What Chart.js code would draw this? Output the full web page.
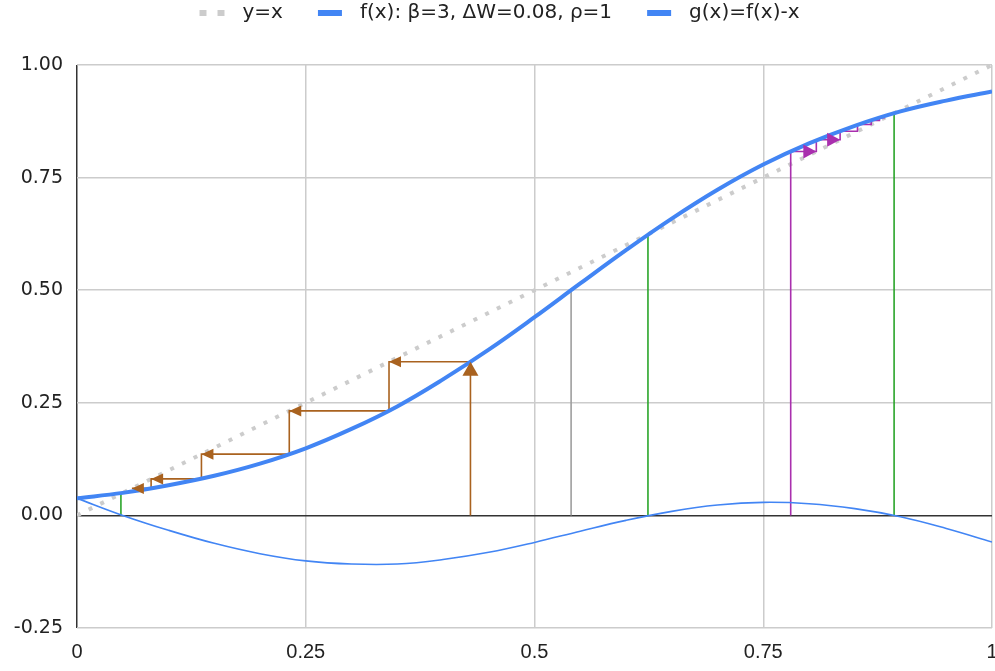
<!DOCTYPE html>
<html>
<head>
<meta charset="utf-8">
<script src="https://cdn.jsdelivr.net/npm/chart.js@4.4.1/dist/chart.umd.min.js"></script>
<style>
  html, body { margin: 0; padding: 0; background: #fff; }
  canvas { display: block; }
</style>
</head>
<body>
<canvas id="cobwebChart" width="995" height="671"></canvas>
<script>
// Sample points of the map and of g(x) = f(x) - x
const xs = [0, 0.05, 0.1, 0.15, 0.2, 0.25, 0.3, 0.35, 0.4, 0.45, 0.5,
            0.55, 0.6, 0.65, 0.7, 0.75, 0.8, 0.85, 0.9, 0.95, 1];
const fVals = [0.038, 0.050, 0.067, 0.088, 0.115, 0.149, 0.192, 0.242, 0.302, 0.368, 0.440,
               0.515, 0.589, 0.659, 0.723, 0.779, 0.826, 0.865, 0.897, 0.921, 0.941];
const gVals = [0.038, 0.000, -0.033, -0.062, -0.085, -0.101, -0.108, -0.108, -0.098, -0.082, -0.060,
               -0.035, -0.011, 0.009, 0.023, 0.029, 0.026, 0.015, -0.003, -0.029, -0.059];

// Diagonal y = x
const diagX = [0, 1];
const diagY = [0, 1];

// Iterates x0, f(x0), f(f(x0)), ... for the two cobwebs
const brownSteps = [0.43, 0.341, 0.232, 0.136, 0.081, 0.060];
const purpleSteps = [0.78, 0.808, 0.834, 0.853, 0.868, 0.877, 0.883];

// Fixed points (green) and the inflection marker (gray)
const fixedX = [0.048, 0.624, 0.893];
const fixedY = [0.050, 0.624, 0.893];
const midX = [0.54];
const midY = [0.50];

const xTickLabels = ["0", "0.25", "0.5", "0.75", "1"];
const xTickValues = [0, 0.25, 0.5, 0.75, 1];
const yTickLabels = ["-0.25", "0.00", "0.25", "0.50", "0.75", "1.00"];
const yTickValues = [-0.25, 0, 0.25, 0.5, 0.75, 1];

const BLUE = "#4285f4";
const BROWN = "#a9621f";
const PURPLE = "#a92fae";
const GREEN = "#2aa52a";
const WIDE_FONT = "'DejaVu Sans', Verdana, sans-serif";
const NARROW_FONT = "'Liberation Sans', Arial, sans-serif";

function toPoints(xArr, yArr) {
  return xArr.map((x, i) => ({ x: x, y: yArr[i] }));
}

// Staircase path: up from the axis, then across to the diagonal, then to the curve
function cobwebPath(steps) {
  const pts = [{ x: steps[0], y: 0 }, { x: steps[0], y: steps[1] }];
  for (let i = 1; i < steps.length; i++) {
    pts.push({ x: steps[i], y: steps[i] });
    if (i + 1 < steps.length) pts.push({ x: steps[i], y: steps[i + 1] });
  }
  return pts;
}

function stem(x, h, color, width) {
  return {
    data: [{ x: x, y: 0 }, { x: x, y: h }],
    showLine: true,
    borderColor: color,
    borderWidth: width,
    pointRadius: 0,
    order: 5,
  };
}

// Legend swatches (40px wide box, 24-26px visible mark in the middle)
function swatch(draw) {
  const c = document.createElement("canvas");
  c.width = 40;
  c.height = 6;
  draw(c.getContext("2d"));
  return c;
}
const dotSwatch = swatch((g) => {
  g.fillStyle = "#cccccc";
  g.fillRect(7, 0, 7, 6);
  g.fillRect(25, 0, 7, 6);
});
const blueSwatch = swatch((g) => {
  g.fillStyle = BLUE;
  g.fillRect(8, 0, 24, 6);
});

// Arrowheads along the cobwebs
const arrows = [];
arrows.push({ x: brownSteps[0], y: brownSteps[1], dir: [0, -1], len: 14, half: 8, color: BROWN });
for (let i = 1; i < brownSteps.length; i++) {
  arrows.push({ x: brownSteps[i], y: brownSteps[i], dir: [-1, 0], len: 12, half: 5.5, color: BROWN });
}
for (let i = 1; i <= 2; i++) {
  arrows.push({ x: purpleSteps[i], y: purpleSteps[i], dir: [1, 0], len: 13, half: 7, color: PURPLE });
}

const arrowPlugin = {
  id: "cobwebArrows",
  afterDatasetsDraw(chart) {
    const ctx = chart.ctx;
    const sx = chart.scales.x;
    const sy = chart.scales.y;
    arrows.forEach((a) => {
      const tx = sx.getPixelForValue(a.x);
      const ty = sy.getPixelForValue(a.y);
      const bx = tx - a.dir[0] * a.len;
      const by = ty - a.dir[1] * a.len;
      const px = -a.dir[1] * a.half;
      const py = a.dir[0] * a.half;
      ctx.save();
      ctx.fillStyle = a.color;
      ctx.beginPath();
      ctx.moveTo(tx, ty);
      ctx.lineTo(bx + px, by + py);
      ctx.lineTo(bx - px, by - py);
      ctx.closePath();
      ctx.fill();
      ctx.restore();
    });
  },
};

// Fixed legend block height so the plot starts at the same place
const legendGap = {
  id: "legendGap",
  beforeInit(chart) {
    const fit = chart.legend.fit;
    chart.legend.fit = function () {
      fit.bind(chart.legend)();
      this.height = 89;
    };
  },
};

const chart = new Chart(document.getElementById("cobwebChart"), {
  type: "scatter",
  data: {
    datasets: [
      {
        label: "y=x",
        data: toPoints(diagX, diagY),
        showLine: true,
        borderColor: "#cccccc",
        borderWidth: 4,
        borderDash: [4, 9],
        pointRadius: 0,
        order: 9,
      },
      {
        label: "f(x): β=3, ΔW=0.08, ρ=1",
        data: toPoints(xs, fVals),
        showLine: true,
        borderColor: BLUE,
        borderWidth: 4,
        tension: 0.4,
        pointRadius: 0,
        order: 1,
      },
      {
        label: "g(x)=f(x)-x",
        data: toPoints(xs, gVals),
        showLine: true,
        borderColor: BLUE,
        borderWidth: 1.6,
        tension: 0.4,
        pointRadius: 0,
        order: 2,
      },
      ...fixedX.map((x, i) => stem(x, fixedY[i], GREEN, 1.6)),
      stem(midX[0], midY[0], "#9e9e9e", 1.6),
      {
        data: cobwebPath(brownSteps),
        showLine: true,
        borderColor: BROWN,
        borderWidth: 1.6,
        pointRadius: 0,
        order: 3,
      },
      {
        data: cobwebPath(purpleSteps),
        showLine: true,
        borderColor: PURPLE,
        borderWidth: 1.6,
        pointRadius: 0,
        order: 3,
      },
    ],
  },
  options: {
    responsive: false,
    animation: false,
    layout: { padding: { left: 0, right: 3, top: -24, bottom: 0 } },
    plugins: {
      tooltip: { enabled: false },
      legend: {
        display: true,
        position: "top",
        labels: {
          usePointStyle: true,
          pointStyleWidth: 40,
          boxWidth: 40,
          boxHeight: 6,
          padding: 27,
          color: "#222",
          font: { family: WIDE_FONT, size: 20 },
          generateLabels: (chart) =>
            chart.data.datasets.slice(0, 3).map((ds, i) => ({
              text: ds.label,
              datasetIndex: i,
              pointStyle: i === 0 ? dotSwatch : blueSwatch,
              fillStyle: "transparent",
              strokeStyle: "transparent",
              lineWidth: 0,
              fontColor: "#222",
            })),
        },
      },
    },
    scales: {
      x: {
        type: "linear",
        min: 0,
        max: 1,
        afterFit: (scale) => {
          scale.height = 43;
          scale.paddingLeft = 0;
          scale.paddingRight = 0;
        },
        afterBuildTicks: (scale) => { scale.ticks = xTickValues.map((v) => ({ value: v })); },
        border: { display: false },
        grid: {
          drawTicks: false,
          lineWidth: 1.5,
          color: (c) => (c.tick && c.tick.value === 0 ? "#333" : "#cccccc"),
        },
        ticks: {
          padding: 12,
          color: "#222",
          maxRotation: 0,
          font: { family: NARROW_FONT, size: 20 },
          callback: (v) => xTickLabels[xTickValues.indexOf(v)],
        },
      },
      y: {
        type: "linear",
        min: -0.25,
        max: 1,
        afterFit: (scale) => { scale.width = 77; },
        afterBuildTicks: (scale) => { scale.ticks = yTickValues.map((v) => ({ value: v })); },
        border: { display: false },
        grid: {
          drawTicks: false,
          lineWidth: 1.5,
          color: (c) => (c.tick && c.tick.value === 0 ? "#333" : "#cccccc"),
        },
        ticks: {
          padding: 14,
          color: "#222",
          font: { family: WIDE_FONT, size: 19 },
          callback: (v) => yTickLabels[yTickValues.indexOf(v)],
        },
      },
    },
  },
  plugins: [arrowPlugin, legendGap],
});
</script>
</body>
</html>
